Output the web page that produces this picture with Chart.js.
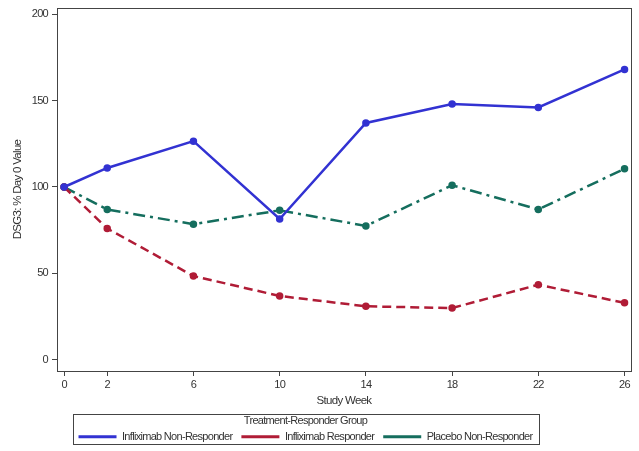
<!DOCTYPE html>
<html>
<head>
<meta charset="utf-8">
<script src="https://cdn.jsdelivr.net/npm/chart.js@4/dist/chart.umd.min.js"></script>
<style>
  html, body { margin: 0; padding: 0; background: #fff; }
  #wrap { width: 639px; height: 451px; }
</style>
</head>
<body>
<div id="wrap"><canvas id="myChart" width="639" height="451"></canvas></div>
<script>
var weeks = [0, 2, 6, 10, 14, 18, 22, 26];
var yTicks = [0, 50, 100, 150, 200];
var nonResponder = [100, 111, 126.5, 81.5, 137, 148, 146, 168];
var responder = [100, 76, 48.5, 37, 31, 30, 43.5, 33];
var placebo = [100, 87, 78.5, 86.5, 77.5, 101, 87, 110.5];

function pts(vals) {
    return vals.map(function (v, i) { return { x: weeks[i], y: v }; });
}

// squeeze text a little, the original uses a narrow face
var spacing = '-0.7px';
var narrow = {
    id: 'narrow',
    beforeInit: function (chart) { chart.ctx.letterSpacing = spacing; },
    beforeUpdate: function (chart) { chart.ctx.letterSpacing = spacing; },
    beforeDraw: function (chart) { chart.ctx.letterSpacing = spacing; },
    afterLayout: function (chart) {
        // legend sits a bit left of centre in the original
        chart.legend.left -= 10;
        chart.legend.right -= 10;
    }
};

var frame = {
    id: 'frame',
    afterDraw: function (chart) {
        var ctx = chart.ctx, a = chart.chartArea;
        ctx.save();
        ctx.strokeStyle = '#444';
        ctx.lineWidth = 1;
        ctx.strokeRect(Math.round(a.left) + 0.5, Math.round(a.top) + 0.5,
            Math.round(a.right - a.left), Math.round(a.bottom - a.top));
        // legend border
        var boxes = chart.legend.legendHitBoxes;
        if (boxes && boxes.length) {
            var l = Infinity, r = -Infinity;
            boxes.forEach(function (b) { l = Math.min(l, b.left); r = Math.max(r, b.left + b.width); });
            ctx.strokeRect(Math.round(l - 6) + 0.5, Math.round(chart.legend.top) + 0.5,
                Math.round(r - l + 12), 30);
        }
        ctx.restore();
    }
};

var font = { family: 'Arial, "Liberation Sans", sans-serif', size: 11 };
var legendFont = { family: 'Arial, "Liberation Sans", sans-serif', size: 11 };

var ctx = document.getElementById('myChart').getContext('2d');
var myChart = new Chart(ctx, {
    type: 'line',
    data: {
        datasets: [{
            label: 'Infliximab Non-Responder',
            data: pts(nonResponder),
            borderColor: '#3232d2',
            backgroundColor: '#3232d2',
            borderWidth: 2.5,
            pointRadius: 2.5
        }, {
            label: 'Infliximab Responder',
            data: pts(responder),
            borderColor: '#b01c36',
            backgroundColor: '#b01c36',
            borderWidth: 2.5,
            borderDash: [9, 5],
            pointRadius: 2.5
        }, {
            label: 'Placebo Non-Responder',
            data: pts(placebo),
            borderColor: '#156e5e',
            backgroundColor: '#156e5e',
            borderWidth: 2.5,
            borderDash: [12, 5, 3, 5],
            pointRadius: 2.5
        }]
    },
    options: {
        responsive: false,
        animation: false,
        layout: { padding: { left: 0, top: 8, right: 8, bottom: 6 } },
        scales: {
            x: {
                type: 'linear',
                min: -0.33,
                max: 26.3,
                afterBuildTicks: function (s) { s.ticks = weeks.map(function (v) { return { value: v }; }); },
                afterFit: function (s) { s.height = 43; s.paddingLeft = 0; s.paddingRight = 0; },
                border: { display: false },
                grid: { drawOnChartArea: false, tickLength: 5, color: '#444' },
                ticks: { font: font, color: '#333', padding: 2, maxRotation: 0 },
                title: { display: true, text: 'Study Week', font: { family: font.family, size: 11.5 }, color: '#333', padding: { top: 0, bottom: 6 } }
            },
            y: {
                min: -6.4,
                max: 203.5,
                afterBuildTicks: function (s) { s.ticks = yTicks.map(function (v) { return { value: v }; }); },
                afterFit: function (s) { s.width = 57; s.paddingTop = 0; s.paddingBottom = 0; },
                border: { display: false },
                grid: { drawOnChartArea: false, tickLength: 5, color: '#444' },
                ticks: { font: font, color: '#333', padding: 4 },
                title: { display: true, text: 'DSG3: % Day 0 Value', font: { family: font.family, size: 11.5 }, color: '#333', padding: { top: 11, bottom: 0 } }
            }
        },
        plugins: {
            legend: {
                position: 'bottom',
                maxHeight: 31,
                title: { display: true, text: 'Treatment-Responder Group', font: legendFont, color: '#333', padding: { top: 1, bottom: -6 } },
                labels: {
                    font: legendFont,
                    color: '#333',
                    usePointStyle: true,
                    pointStyleWidth: 38,
                    boxHeight: 6,
                    padding: 9,
                    generateLabels: function (chart) {
                        var items = Chart.defaults.plugins.legend.labels.generateLabels(chart);
                        items.forEach(function (it) { it.pointStyle = 'line'; it.lineWidth = 3; });
                        return items;
                    }
                }
            },
            tooltip: { enabled: false }
        }
    },
    plugins: [narrow, frame]
});
</script>
</body>
</html>
